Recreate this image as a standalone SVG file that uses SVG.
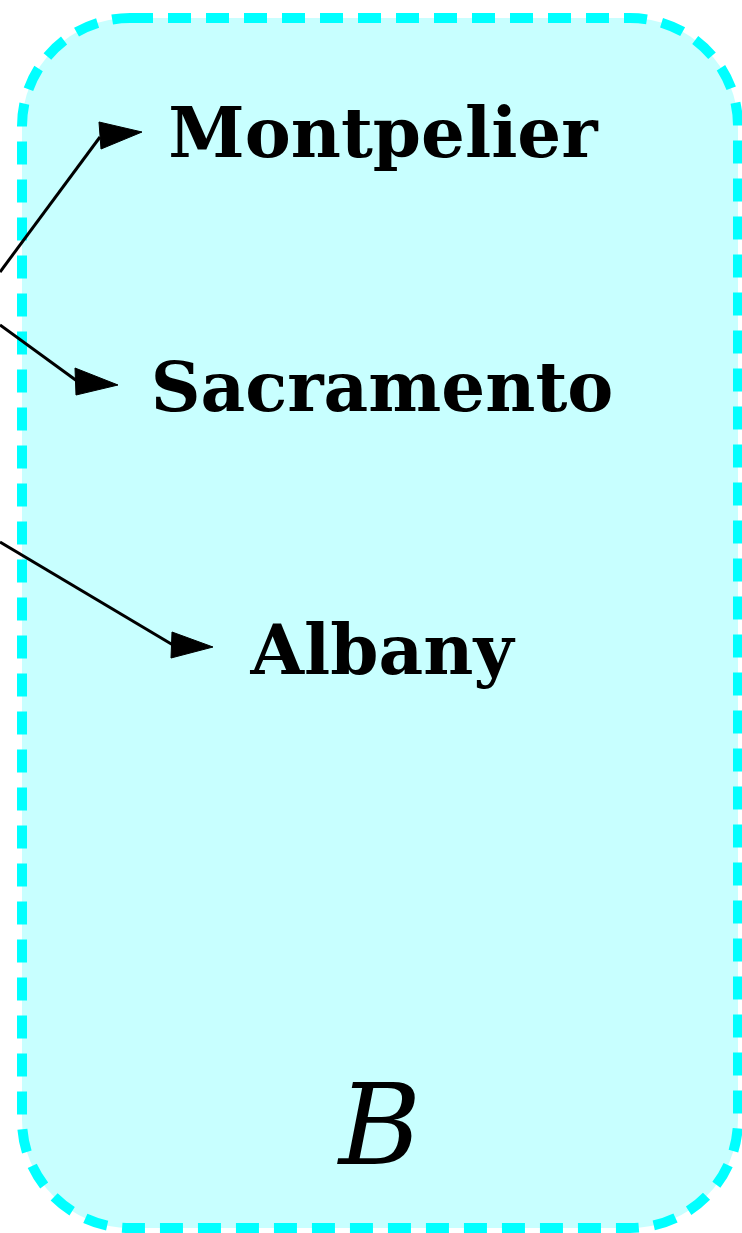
<svg xmlns="http://www.w3.org/2000/svg" width="742" height="1233" viewBox="0 0 742 1233">
  <style>
    .cluster { fill: #c8ffff; stroke: #00ffff; stroke-width: 10; stroke-dasharray: 23 15; }
    .label { font-family: "DejaVu Serif", "Liberation Serif", serif; font-weight: bold; font-size: 69px; fill: #000; text-anchor: middle; }
    .title { font-family: "DejaVu Serif", "Liberation Serif", serif; font-style: italic; font-size: 112px; fill: #000; text-anchor: middle; }
    .edge { fill: none; stroke: #000; stroke-width: 3; }
    .head { fill: #000; stroke: #000; stroke-width: 1; }
  </style>

  <!-- cluster B -->
  <g id="cluster_B">
    <rect class="cluster" x="22" y="18" width="716" height="1210" rx="108" ry="108"/>
    <text class="title" x="380" y="1164">B</text>
  </g>

  <!-- nodes -->
  <g id="Montpelier">
    <text class="label" x="383" y="157">Montpelier</text>
  </g>
  <g id="Sacramento">
    <text class="label" x="382" y="411">Sacramento</text>
  </g>
  <g id="Albany">
    <text class="label" x="382" y="674">Albany</text>
  </g>

  <!-- edges -->
  <g id="edges">
    <path class="edge" d="M0,272 L100,137"/>
    <polygon class="head" points="99,122 142,132 101,149"/>
    <path class="edge" d="M0,325 L77,381"/>
    <polygon class="head" points="75,368 118,385 76,395"/>
    <path class="edge" d="M0,542 L173,645"/>
    <polygon class="head" points="172,632 213,647 171,658"/>
  </g>
</svg>
